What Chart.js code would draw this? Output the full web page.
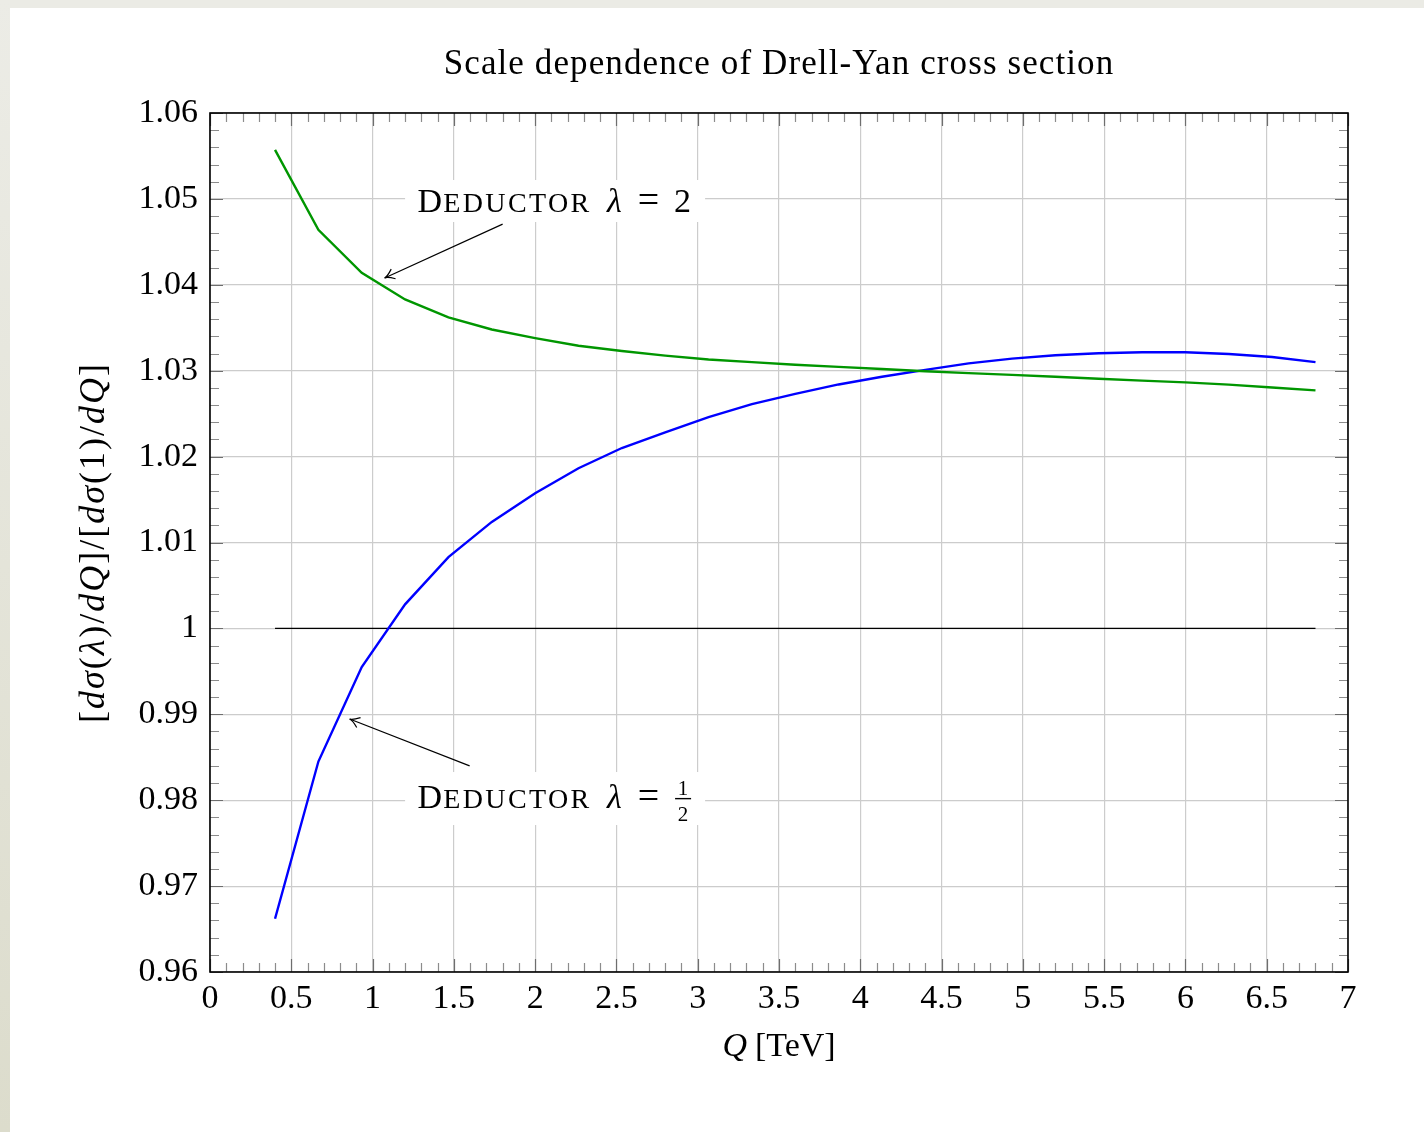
<!DOCTYPE html>
<html>
<head>
<meta charset="utf-8">
<script src="https://cdn.jsdelivr.net/npm/chart.js@4.4.1/dist/chart.umd.min.js"></script>
<style>
html, body { margin: 0; padding: 0; background: #fff; }
canvas { display: block; }
</style>
</head>
<body>
<canvas id="chart" width="1424" height="1132"></canvas>
<script>
// Q values [TeV] of the computed points
var qValues = [0.4, 0.6667, 0.9333, 1.2, 1.4667, 1.7333, 2.0, 2.2667, 2.5333, 2.8,
               3.0667, 3.3333, 3.6, 3.8667, 4.1333, 4.4, 4.6667, 4.9333, 5.2, 5.4667,
               5.7333, 6.0, 6.2667, 6.5333, 6.8];
// ratio for lambda = 2
var ratioLambda2 = [1.0557, 1.0464, 1.0414, 1.0383, 1.0362, 1.0348, 1.0338, 1.0329, 1.0323, 1.03175,
                    1.0313, 1.0310, 1.0307, 1.03045, 1.0302, 1.02993, 1.02972, 1.02951, 1.0293, 1.02906,
                    1.02884, 1.02864, 1.02838, 1.02805, 1.02771];
// ratio for lambda = 1/2
var ratioLambdaHalf = [0.9662, 0.9845, 0.9955, 1.0028, 1.0083, 1.0124, 1.01573, 1.01864, 1.0210, 1.02283,
                       1.0246, 1.0261, 1.0273, 1.0284, 1.0293, 1.0301, 1.03085, 1.0314, 1.0318, 1.03203,
                       1.03214, 1.03214, 1.03195, 1.0316, 1.031];
// reference line at ratio 1
var refQ = [0.4, 6.8];
var refRatio = [1, 1];

var xTickValues = [0, 0.5, 1, 1.5, 2, 2.5, 3, 3.5, 4, 4.5, 5, 5.5, 6, 6.5, 7];
var yTickValues = [0.96, 0.97, 0.98, 0.99, 1, 1.01, 1.02, 1.03, 1.04, 1.05, 1.06];

var titleText = "Scale dependence of Drell-Yan cross section";

var SERIF = '"Liberation Serif", "DejaVu Serif", serif';
var FS = 34;

function pts(xs, ys) {
    return xs.map(function(x, i) { return {x: x, y: ys[i]}; });
}

function font(size, italic) {
    return (italic ? "italic " : "") + size + "px " + SERIF;
}

// draw a run of text pieces, each with its own font
function drawRich(ctx, parts, x, y, align, spacing) {
    ctx.letterSpacing = (spacing || 0) + "px";
    var total = 0;
    parts.forEach(function(p) { ctx.font = p.f; total += ctx.measureText(p.t).width + (p.gap || 0); });
    var cx = align === "center" ? x - total / 2 : x;
    ctx.textAlign = "left";
    ctx.textBaseline = "alphabetic";
    parts.forEach(function(p) {
        ctx.font = p.f;
        ctx.fillText(p.t, cx, y);
        cx += ctx.measureText(p.t).width + (p.gap || 0);
    });
    ctx.letterSpacing = "0px";
    return cx;
}

// "Deductor lambda =" in small caps, x0 = left edge of the white box
function drawDeductor(ctx, x0, base) {
    ctx.textBaseline = "alphabetic";
    ctx.textAlign = "left";
    ctx.font = font(FS);
    ctx.fillText("D", x0 + 12.5, base);
    var w = ctx.measureText("D").width;
    ctx.letterSpacing = "2.4px";
    ctx.font = font(28);
    ctx.fillText("EDUCTOR", x0 + 12.5 + w + 1, base);
    ctx.letterSpacing = "0px";
    ctx.font = font(FS, true);
    ctx.fillText("\u03bb", x0 + 202, base);
    ctx.font = font(38);
    ctx.textAlign = "center";
    ctx.fillText("=", x0 + 243.5, base);
    ctx.textAlign = "left";
}

function arrow(ctx, x0, y0, x1, y1) {
    ctx.save();
    ctx.strokeStyle = "#000";
    ctx.lineWidth = 1.2;
    ctx.beginPath();
    ctx.moveTo(x0, y0);
    ctx.lineTo(x1, y1);
    ctx.stroke();
    var a = Math.atan2(y1 - y0, x1 - x0);
    ctx.beginPath();
    ctx.moveTo(x1 - 11 * Math.cos(a - 0.5), y1 - 11 * Math.sin(a - 0.5));
    ctx.quadraticCurveTo(x1 - 3 * Math.cos(a), y1 - 3 * Math.sin(a), x1, y1);
    ctx.quadraticCurveTo(x1 - 3 * Math.cos(a), y1 - 3 * Math.sin(a), x1 - 11 * Math.cos(a + 0.5), y1 - 11 * Math.sin(a + 0.5));
    ctx.stroke();
    ctx.restore();
}

var pagePlugin = {
    id: "page",
    beforeDraw: function(chart) {
        var ctx = chart.ctx;
        ctx.save();
        var g = ctx.createLinearGradient(0, 0, 0, chart.height);
        g.addColorStop(0, "#ececE6");
        g.addColorStop(1, "#dcdccc");
        ctx.fillStyle = "#ebebe5";
        ctx.fillRect(0, 0, chart.width, 8);
        ctx.fillStyle = g;
        ctx.fillRect(0, 0, 10, chart.height);
        ctx.fillStyle = "#fff";
        ctx.fillRect(10, 8, chart.width - 10, chart.height - 8);
        ctx.restore();
    },
    beforeDatasetsDraw: function(chart) {
        var ctx = chart.ctx, xs = chart.scales.x, ys = chart.scales.y;
        ctx.save();
        ctx.fillStyle = "#fff";
        // white boxes behind the annotations
        ctx.fillRect(xs.getPixelForValue(1.20), ys.getPixelForValue(1.0522), 300, 42);
        ctx.fillRect(xs.getPixelForValue(1.20), ys.getPixelForValue(0.98328), 300, 53);
        ctx.restore();
    },
    afterDraw: function(chart) {
        var ctx = chart.ctx, xs = chart.scales.x, ys = chart.scales.y, a = chart.chartArea;
        ctx.save();

        // minor ticks, inward on all sides
        ctx.strokeStyle = "#8c8c8c";
        ctx.lineWidth = 1.2;
        ctx.beginPath();
        for (var i = 0; i <= 70; i++) {
            if (i % 5 === 0) continue;
            var px = Math.round(xs.getPixelForValue(i / 10)) + 0.5;
            ctx.moveTo(px, a.bottom); ctx.lineTo(px, a.bottom - 9);
            ctx.moveTo(px, a.top); ctx.lineTo(px, a.top + 9);
        }
        for (var j = 0; j <= 50; j++) {
            if (j % 5 === 0) continue;
            var py = Math.round(ys.getPixelForValue(0.96 + j * 0.002)) + 0.5;
            ctx.moveTo(a.left, py); ctx.lineTo(a.left + 9, py);
            ctx.moveTo(a.right, py); ctx.lineTo(a.right - 9, py);
        }
        ctx.stroke();

        // major ticks
        ctx.strokeStyle = "#6e6e6e";
        ctx.beginPath();
        xTickValues.forEach(function(v) {
            var px = Math.round(xs.getPixelForValue(v)) + 0.5;
            ctx.moveTo(px, a.bottom); ctx.lineTo(px, a.bottom - 13);
            ctx.moveTo(px, a.top); ctx.lineTo(px, a.top + 13);
        });
        yTickValues.forEach(function(v) {
            var py = Math.round(ys.getPixelForValue(v)) + 0.5;
            ctx.moveTo(a.left, py); ctx.lineTo(a.left + 13, py);
            ctx.moveTo(a.right, py); ctx.lineTo(a.right - 13, py);
        });
        ctx.stroke();

        // frame
        ctx.strokeStyle = "#000";
        ctx.lineWidth = 1.6;
        ctx.strokeRect(a.left, a.top, a.right - a.left, a.bottom - a.top);

        ctx.fillStyle = "#000";
        // title
        drawRich(ctx, [{t: titleText, f: font(35)}], (a.left + a.right) / 2, 74, "center", 1.1);

        // x axis title
        drawRich(ctx, [
            {t: "Q", f: font(FS, true), gap: 8},
            {t: "[TeV]", f: font(FS)}
        ], (a.left + a.right) / 2, 1056, "center");

        // y axis title, rotated
        ctx.save();
        ctx.translate(104, (a.top + a.bottom) / 2);
        ctx.rotate(-Math.PI / 2);
        var N = font(36), I = font(36, true);
        drawRich(ctx, [
            {t: "[", f: N}, {t: "d\u03c3", f: I}, {t: "(", f: N}, {t: "\u03bb", f: I},
            {t: ")/", f: N}, {t: "dQ", f: I}, {t: "]/[", f: N}, {t: "d\u03c3", f: I},
            {t: "(1)/", f: N}, {t: "dQ", f: I}, {t: "]", f: N}
        ], 0, 0, "center", 2);
        ctx.restore();

        var bx = xs.getPixelForValue(1.2);

        // annotation lambda = 2
        var base1 = ys.getPixelForValue(1.04845);
        drawDeductor(ctx, bx, base1);
        ctx.font = font(FS);
        ctx.textAlign = "left";
        ctx.fillText("2", bx + 269, base1);
        arrow(ctx, xs.getPixelForValue(1.80), ys.getPixelForValue(1.04706),
                   xs.getPixelForValue(1.074), ys.getPixelForValue(1.0408));

        // annotation lambda = 1/2
        var base2 = ys.getPixelForValue(0.9791);
        drawDeductor(ctx, bx, base2);
        ctx.font = font(21);
        ctx.textAlign = "center";
        ctx.fillText("1", bx + 278, base2 - 13);
        ctx.fillText("2", bx + 278, base2 + 13);
        ctx.fillRect(bx + 270, base2 - 10, 16, 1.4);
        arrow(ctx, xs.getPixelForValue(1.597), ys.getPixelForValue(0.9840),
                   xs.getPixelForValue(0.859), ys.getPixelForValue(0.98945));

        ctx.restore();
    }
};

function fmt(v) {
    return String(Number(v.toFixed(2)));
}

new Chart(document.getElementById("chart").getContext("2d"), {
    type: "line",
    data: {
        datasets: [
            {data: pts(qValues, ratioLambda2), borderColor: "#009600", borderWidth: 2.4},
            {data: pts(qValues, ratioLambdaHalf), borderColor: "#0000ff", borderWidth: 2.4},
            {data: pts(refQ, refRatio), borderColor: "#000", borderWidth: 1.2}
        ]
    },
    options: {
        responsive: false,
        animation: false,
        devicePixelRatio: 1,
        elements: {point: {radius: 0}, line: {tension: 0, fill: false}},
        layout: {padding: {top: 113, right: 76, bottom: 0, left: 0}},
        plugins: {legend: {display: false}, tooltip: {enabled: false}, title: {display: false}},
        scales: {
            x: {
                type: "linear",
                min: 0, max: 7,
                afterFit: function(s) { s.height = 160; },
                afterBuildTicks: function(s) { s.ticks = xTickValues.map(function(v) { return {value: v}; }); },
                grid: {color: "#cccccc", lineWidth: 1.2, drawTicks: false},
                border: {display: false},
                ticks: {
                    autoSkip: false, maxRotation: 0, padding: 7, color: "#000",
                    font: {family: SERIF, size: FS},
                    callback: fmt
                }
            },
            y: {
                type: "linear",
                min: 0.96, max: 1.06,
                afterFit: function(s) { s.width = 210; },
                afterBuildTicks: function(s) { s.ticks = yTickValues.map(function(v) { return {value: v}; }); },
                grid: {color: "#cccccc", lineWidth: 1.2, drawTicks: false},
                border: {display: false},
                ticks: {
                    autoSkip: false, padding: 12, color: "#000",
                    font: {family: SERIF, size: FS},
                    callback: fmt
                }
            }
        }
    },
    plugins: [pagePlugin]
});
</script>
</body>
</html>
